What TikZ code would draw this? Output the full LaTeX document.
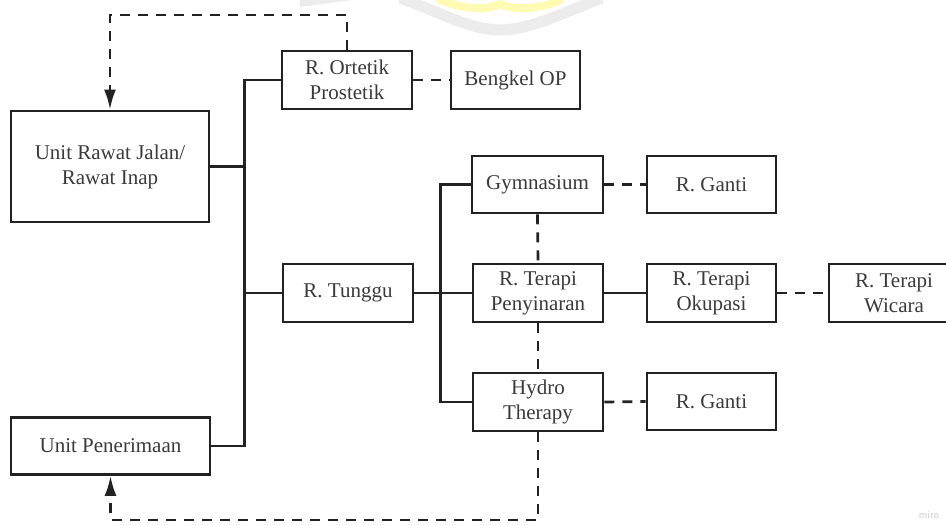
\documentclass[tikz,border=0pt]{standalone}
\usepackage{fontspec}
\setmainfont{Liberation Serif}
\usetikzlibrary{arrows.meta}
\definecolor{ink}{HTML}{222222}
\definecolor{txt}{HTML}{3A3A3A}
\begin{document}
\begin{tikzpicture}[x=1pt,y=-1pt,
  room/.style={draw=ink, line width=2.7pt, rectangle, inner sep=0pt,
    text=txt, align=center, font=\fontsize{21}{25}\selectfont},
  link/.style={draw=ink, line width=2.7pt},
  dlink/.style={draw=ink, line width=2.7pt, dash pattern=on 10pt off 8pt},
  flow/.style={dlink, -{Latex[length=20pt,width=12pt]}}]
\clip (0,0) rectangle (946,525);
\fill[white] (0,0) rectangle (946,525);

% faint emblem at the top edge
\fill[gray!15] (300,0) -- (352,0) -- (300,7) -- cycle;
\draw[line width=8pt, yellow!30, line cap=round] (440,0) .. controls (465,10) and (490,10) .. (500,4) .. controls (512,10) and (540,10) .. (560,0);
\draw[line width=11pt, gray!15] (400,-2) .. controls (440,12) and (470,30) .. (500,30) .. controls (530,30) and (565,12) .. (602,-2);

% rooms
\node[room, minimum width=130pt, minimum height=58pt] (ort) at (347,80) {R. Ortetik\\Prostetik};
\node[room, minimum width=129pt, minimum height=58pt] (bengkel) at (515.5,80) {Bengkel OP};
\node[room, minimum width=198pt, minimum height=111pt] (urj) at (110,166.5) {Unit Rawat Jalan/\\Rawat Inap};
\node[room, minimum width=199pt, minimum height=57pt] (upen) at (110.5,446) {Unit Penerimaan};
\node[room, minimum width=130pt, minimum height=58pt] (tunggu) at (348,293) {R. Tunggu};
\node[room, minimum width=131pt, minimum height=57pt] (gym) at (537.5,184.5) {Gymnasium};
\node[room, minimum width=130pt, minimum height=58pt] (peny) at (538,293) {R. Terapi\\Penyinaran};
\node[room, minimum width=130pt, minimum height=58pt] (hydro) at (538,402) {Hydro\\Therapy};
\node[room, minimum width=129pt, minimum height=57pt] (ganti1) at (711.5,184.5) {R. Ganti};
\node[room, minimum width=129pt, minimum height=58pt] (okup) at (711.5,293) {R. Terapi\\Okupasi};
\node[room, minimum width=130pt, minimum height=58pt] (wic) at (894,293) {R. Terapi\\Wicara};
\node[room, minimum width=129pt, minimum height=57pt] (ganti2) at (711.5,401.5) {R. Ganti};

% levels of the dashed return loops
\coordinate (topy) at (0,15);
\coordinate (boty) at (0,520);

% main trunk
\draw[link] (ort.west) -- ++(-36,0) coordinate (t1) |- (upen.east);
\draw[link] (urj.east) -- (urj.east -| t1);
\draw[link] (tunggu.west) -- (tunggu.west -| t1);

% therapy trunk
\draw[link] (gym.west) -- ++(-30,0) coordinate (t2) |- (hydro.west);
\draw[link] (tunggu.east) -- (peny.west);
\draw[link] (peny.east) -- (okup.west);

% dashed relations
\draw[dlink] (ort.east) -- (bengkel.west);
\draw[dlink] (gym.east) -- (ganti1.west);
\draw[dlink] (okup.east) -- (wic.west);
\draw[dlink] (hydro.east) -- (ganti2.west);
\draw[dlink] (gym.south) -- (peny.north);
\draw[dlink] (peny.south) -- (hydro.north);

% return loops
\draw[flow] (ort.north) -- (ort.north |- topy) -| (urj.north);
\draw[flow] (hydro.south) -- (hydro.south |- boty) -| (upen.south);

% watermark
\node[text=gray!40, font=\sffamily\fontsize{11}{11}\selectfont] (miro) at (929,515) {miro};
\end{tikzpicture}
\end{document}
